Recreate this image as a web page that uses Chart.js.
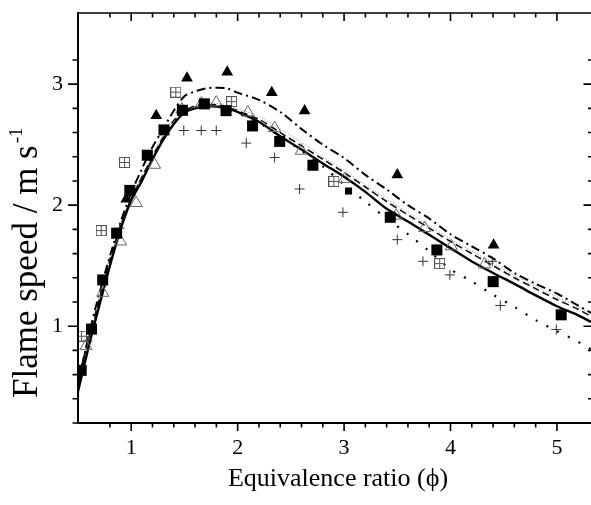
<!DOCTYPE html>
<html>
<head>
<meta charset="utf-8">
<script src="https://cdn.jsdelivr.net/npm/chart.js@4.4.1/dist/chart.umd.min.js"></script>
<style>
  html, body { margin: 0; padding: 0; background: #fff; }
  canvas { display: block; }
</style>
</head>
<body>
<canvas id="myChart" width="591" height="505"></canvas>
<script>
// ---- data ----
var xTitle = 'Equivalence ratio (\u03d5)';
var yTitle = 'Flame speed / m s';
var yTitleSup = '-1';
var xTickLabels = [1, 2, 3, 4, 5];
var yTickLabels = [1, 2, 3];

// filled squares
var sqPhi = [0.53, 0.627, 0.732, 0.863, 0.987, 1.151, 1.308, 1.481, 1.687, 1.891, 2.14, 2.395, 2.707, 3.434, 3.872, 4.401, 5.04];
var sqS   = [0.635, 0.976, 1.382, 1.768, 2.122, 2.413, 2.622, 2.784, 2.837, 2.781, 2.655, 2.527, 2.33, 1.9, 1.63, 1.368, 1.094];
// small filled square
var sqSmallPhi = [3.042];
var sqSmallS   = [2.117];
// filled triangles
var triPhi = [0.953, 1.235, 1.524, 1.902, 2.321, 2.629, 3.5, 4.405];
var triS   = [2.05, 2.74, 3.05, 3.1, 2.93, 2.78, 2.25, 1.67];
// open squares with a plus inside
var boxPhi = [0.532, 0.718, 0.937, 1.419, 1.943, 2.904, 3.898];
var boxS   = [0.917, 1.79, 2.353, 2.934, 2.856, 2.196, 1.517];
// open triangles
var otriPhi = [0.575, 0.733, 0.9, 1.047, 1.219, 1.476, 1.66, 1.799, 2.096, 2.347, 2.598, 3.005, 3.49, 3.757, 4.007, 4.32];
var otriS   = [0.835, 1.276, 1.7, 2.018, 2.334, 2.79, 2.84, 2.848, 2.766, 2.637, 2.45, 2.216, 1.913, 1.812, 1.66, 1.51];
// plus signs
var plusPhi = [0.59, 0.89, 1.494, 1.658, 1.799, 2.081, 2.347, 2.582, 2.989, 3.5, 3.741, 3.994, 4.393, 4.468, 4.994];
var plusS   = [0.877, 1.81, 2.617, 2.617, 2.617, 2.513, 2.394, 2.134, 1.941, 1.715, 1.536, 1.424, 1.536, 1.171, 0.973];

// model curves, all on the same phi grid
var linePhi   = [0.5, 0.6, 0.7, 0.8, 0.9, 1.0, 1.1, 1.2, 1.3, 1.4, 1.5, 1.6, 1.7, 1.8, 1.9, 2.0, 2.2, 2.4, 2.6, 2.8, 3.0, 3.2, 3.4, 3.6, 3.8, 4.0, 4.2, 4.4, 4.6, 4.8, 5.0, 5.2, 5.32];
var solidS    = [0.46, 0.83, 1.17, 1.5, 1.8, 2.04, 2.2, 2.38, 2.54, 2.67, 2.765, 2.8, 2.815, 2.815, 2.8, 2.77, 2.69, 2.57, 2.46, 2.345, 2.235, 2.11, 1.97, 1.865, 1.755, 1.645, 1.535, 1.44, 1.35, 1.255, 1.165, 1.09, 1.035];
var dashDotS  = [0.52, 0.92, 1.27, 1.58, 1.86, 2.1, 2.3, 2.48, 2.63, 2.78, 2.9, 2.94, 2.965, 2.97, 2.965, 2.93, 2.87, 2.77, 2.63, 2.5, 2.39, 2.25, 2.13, 2.0, 1.89, 1.76, 1.66, 1.56, 1.44, 1.35, 1.27, 1.17, 1.11];
var dashedS   = [0.55, 0.9, 1.22, 1.55, 1.83, 2.05, 2.23, 2.4, 2.56, 2.7, 2.78, 2.82, 2.83, 2.83, 2.81, 2.78, 2.71, 2.6, 2.49, 2.38, 2.27, 2.15, 2.03, 1.92, 1.81, 1.7, 1.6, 1.5, 1.4, 1.31, 1.22, 1.14, 1.08];
var greyDotS  = [0.5, 0.87, 1.2, 1.52, 1.82, 2.06, 2.24, 2.42, 2.58, 2.7, 2.78, 2.82, 2.84, 2.84, 2.83, 2.8, 2.73, 2.63, 2.52, 2.4, 2.29, 2.17, 2.05, 1.94, 1.83, 1.72, 1.62, 1.52, 1.42, 1.33, 1.24, 1.16, 1.1];
var dottedS   = [0.48, 0.85, 1.19, 1.52, 1.81, 2.05, 2.22, 2.4, 2.55, 2.68, 2.77, 2.81, 2.82, 2.82, 2.8, 2.76, 2.68, 2.57, 2.45, 2.32, 2.17, 2.03, 1.89, 1.76, 1.62, 1.47, 1.37, 1.26, 1.16, 1.05, 0.96, 0.87, 0.81];

function pts(xs, ys) {
    return xs.map(function (x, i) { return { x: x, y: ys[i] }; });
}

// open square with a plus inside
var boxPlus = document.createElement('canvas');
boxPlus.width = 11; boxPlus.height = 11;
(function () {
    var c = boxPlus.getContext('2d');
    c.strokeStyle = '#555';
    c.lineWidth = 1;
    c.strokeRect(0.5, 0.5, 10, 10);
    c.beginPath();
    c.moveTo(5.5, 1); c.lineTo(5.5, 10);
    c.moveTo(1, 5.5); c.lineTo(10, 5.5);
    c.stroke();
})();

function isOnStep(v, step) {
    return Math.abs(v / step - Math.round(v / step)) < 1e-6;
}

// frame with major / minor ticks: out on left & bottom, in on top & right
// (right axis sits just past the canvas edge, only its ticks peek in)
var framePlugin = {
    id: 'frame',
    afterDraw: function (chart) {
        var ctx = chart.ctx, ca = chart.chartArea;
        var xs = chart.scales.x, ys = chart.scales.y;
        var L = ca.left, R = ca.right + 2.5, T = ca.top, B = ca.bottom;
        ctx.save();
        ctx.strokeStyle = '#000';
        ctx.lineWidth = 2;
        ctx.beginPath();
        ctx.moveTo(L - 1, B); ctx.lineTo(R, B);
        ctx.moveTo(L, B); ctx.lineTo(L, T - 1);
        ctx.stroke();
        ctx.lineWidth = 1.6;
        ctx.beginPath();
        ctx.moveTo(L - 1, T); ctx.lineTo(R, T);
        ctx.moveTo(R, T); ctx.lineTo(R, B);
        ctx.stroke();

        ctx.lineWidth = 1.6;
        ctx.beginPath();
        xs.ticks.forEach(function (t) {
            if (!isOnStep(t.value, 0.2)) return;
            var p = xs.getPixelForValue(t.value);
            var len = isOnStep(t.value, 1) ? 8 : 4.5;
            ctx.moveTo(p, B); ctx.lineTo(p, B + len);
            ctx.moveTo(p, T); ctx.lineTo(p, T + len);
        });
        ys.ticks.forEach(function (t) {
            if (!isOnStep(t.value, 0.2)) return;
            var p = ys.getPixelForValue(t.value);
            var len = isOnStep(t.value, 1) ? 10 : 5.5;
            ctx.moveTo(L, p); ctx.lineTo(L - len, p);
            ctx.moveTo(R, p); ctx.lineTo(R - len, p);
        });
        ctx.stroke();

        // axis titles
        ctx.fillStyle = '#000';
        ctx.font = '26px "Liberation Serif"';
        ctx.textAlign = 'center';
        ctx.textBaseline = 'alphabetic';
        ctx.fillText(xTitle, 338, 486);

        ctx.translate(37, 398);
        ctx.rotate(-Math.PI / 2);
        ctx.textAlign = 'left';
        ctx.font = '35px "Liberation Serif"';
        ctx.fillText(yTitle, 0, 0);
        var w = ctx.measureText(yTitle).width;
        ctx.font = '19px "Liberation Serif"';
        ctx.fillText(yTitleSup, w + 2, -15);
        ctx.restore();
    }
};

var ctx = document.getElementById('myChart').getContext('2d');
var tickFont = { family: '"Liberation Serif"', size: 22 };

var myChart = new Chart(ctx, {
    type: 'scatter',
    data: {
        datasets: [
            { data: pts(sqPhi, sqS), pointStyle: 'rect', pointRadius: 7.8, backgroundColor: '#000', borderColor: '#000', borderWidth: 0 },
            { data: pts(sqSmallPhi, sqSmallS), pointStyle: 'rect', pointRadius: 5, backgroundColor: '#000', borderColor: '#000', borderWidth: 0 },
            { data: pts(triPhi, triS), pointStyle: 'triangle', pointRadius: 6.8, backgroundColor: '#000', borderColor: '#000', borderWidth: 0 },
            { data: pts(boxPhi, boxS), pointStyle: boxPlus, pointRadius: 6 },
            { data: pts(otriPhi, otriS), pointStyle: 'triangle', pointRadius: 7, backgroundColor: 'rgba(255,255,255,0)', borderColor: '#666', borderWidth: 1 },
            { data: pts(plusPhi, plusS), pointStyle: 'cross', pointRadius: 5, borderColor: '#333', borderWidth: 1 },
            { type: 'line', data: pts(linePhi, solidS), borderColor: '#000', borderWidth: 2.4, pointRadius: 0, fill: false, tension: 0.3 },
            { type: 'line', data: pts(linePhi, dashDotS), borderColor: '#000', borderWidth: 2, borderDash: [9, 4, 2, 4], pointRadius: 0, fill: false, tension: 0.3 },
            { type: 'line', data: pts(linePhi, dashedS), borderColor: '#111', borderWidth: 1.6, borderDash: [7, 4], pointRadius: 0, fill: false, tension: 0.3 },
            { type: 'line', data: pts(linePhi, greyDotS), borderColor: '#888', borderWidth: 1, borderDash: [1, 2], pointRadius: 0, fill: false, tension: 0.3 },
            { type: 'line', data: pts(linePhi, dottedS), borderColor: '#000', borderWidth: 2.2, borderDash: [2, 10], pointRadius: 0, fill: false, tension: 0.3 }
        ]
    },
    options: {
        responsive: false,
        animation: false,
        events: [],
        layout: { autoPadding: false, padding: { top: 13, right: 0, left: 0, bottom: 0 } },
        plugins: { legend: { display: false }, tooltip: { enabled: false } },
        scales: {
            x: {
                type: 'linear', position: 'bottom', min: 0.5, max: 5.32,
                grid: { display: false, drawTicks: false },
                border: { display: false },
                ticks: {
                    stepSize: 0.2, autoSkip: false, maxRotation: 0, padding: 12,
                    color: '#000', font: tickFont,
                    callback: function (v) { return xTickLabels.indexOf(Math.round(v)) >= 0 && isOnStep(v, 1) ? String(Math.round(v)) : ''; }
                },
                afterFit: function (s) { s.height = 82; s.paddingLeft = 0; s.paddingRight = 0; }
            },
            y: {
                type: 'linear', position: 'left', min: 0.2, max: 3.588,
                grid: { display: false, drawTicks: false },
                border: { display: false },
                ticks: {
                    stepSize: 0.2, autoSkip: false, padding: 15,
                    color: '#000', font: tickFont,
                    callback: function (v) { return yTickLabels.indexOf(Math.round(v)) >= 0 && isOnStep(v, 1) ? String(Math.round(v)) : ''; }
                },
                afterFit: function (s) { s.width = 78; s.paddingTop = 0; s.paddingBottom = 0; }
            }
        }
    },
    plugins: [framePlugin]
});
</script>
</body>
</html>
